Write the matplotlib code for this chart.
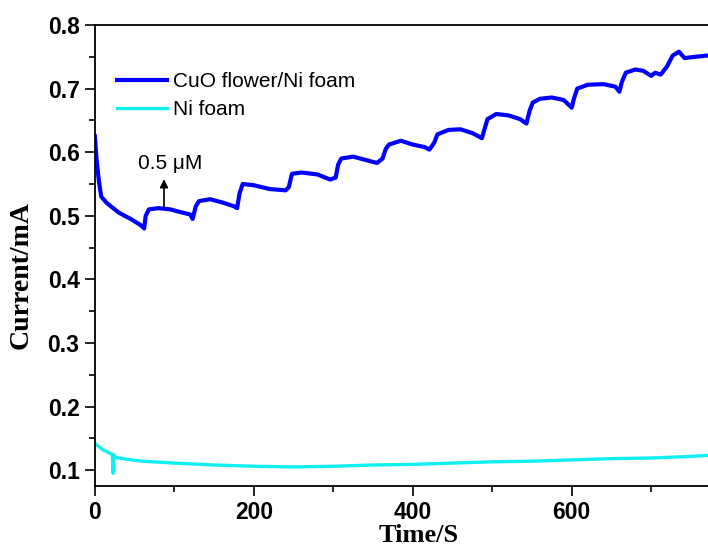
import numpy as np
import matplotlib.pyplot as plt

# values
cuo_t = [0, 2, 5, 8, 15, 30, 45, 58, 62, 64, 68, 80, 95, 110, 120, 123,
         127, 131, 145, 160, 175, 179, 182, 186, 200, 220, 240, 244, 248,
         260, 280, 296, 303, 306, 310, 325, 340, 355, 362, 366, 370, 385,
         400, 415, 421, 427, 431, 445, 460, 475, 487, 490, 494, 505, 520,
         535, 543, 547, 551, 560, 575, 590, 600, 603, 607, 620, 640, 655,
         660, 663, 668, 680, 690, 700, 705, 712, 720, 727, 735, 742, 755, 771]
cuo_i = [0.625, 0.590, 0.555, 0.530, 0.520, 0.505, 0.495, 0.485, 0.480, 0.500,
         0.510, 0.512, 0.510, 0.505, 0.502, 0.495,
         0.515, 0.523, 0.526, 0.521, 0.515, 0.512, 0.535, 0.550, 0.548, 0.542,
         0.540, 0.545, 0.566, 0.568, 0.565, 0.557, 0.560, 0.580, 0.590, 0.593,
         0.588, 0.583, 0.590, 0.605, 0.612, 0.618, 0.612, 0.608, 0.604, 0.615,
         0.628, 0.635, 0.636, 0.630, 0.622, 0.635, 0.652, 0.660, 0.658, 0.652,
         0.645, 0.665, 0.678, 0.684, 0.686, 0.682, 0.670, 0.685, 0.700, 0.706,
         0.707, 0.703, 0.695, 0.710, 0.725, 0.730, 0.728, 0.720, 0.725, 0.722,
         0.735, 0.752, 0.758, 0.748, 0.750, 0.752]

ni_t = [0, 5, 10, 20, 22, 23, 24, 26, 40, 60, 100, 150, 200, 250, 300,
        350, 400, 450, 500, 550, 600, 650, 700, 740, 771]
ni_i = [0.142, 0.137, 0.132, 0.126, 0.124, 0.095, 0.124, 0.120, 0.117, 0.114,
        0.111, 0.108, 0.106, 0.105, 0.106, 0.108, 0.109, 0.111, 0.113, 0.114,
        0.116, 0.118, 0.119, 0.121, 0.123]

fig = plt.figure(figsize=(7.08, 5.51), dpi=100)
ax = fig.add_axes([0.134, 0.118, 0.898, 0.8366])

ax.plot(cuo_t, cuo_i, color='#0000ff', lw=3, label='CuO flower/Ni foam')
ax.plot(ni_t, ni_i, color='#10f0f0', lw=2.4, label='Ni foam')

ax.set_xlim(0, 800)
ax.set_ylim(0.075, 0.8)
ax.set_xticks([0, 200, 400, 600])
ax.set_xticks([100, 300, 500, 700], minor=True)
ax.set_yticks(np.arange(0.1, 0.81, 0.1))
ax.set_yticks(np.arange(0.15, 0.8, 0.1), minor=True)
ax.set_yticklabels(['0.1', '0.2', '0.3', '0.4', '0.5', '0.6', '0.7', '0.8'])

ax.tick_params(which='major', direction='out', length=7, width=1.2, pad=4)
ax.tick_params(which='minor', direction='out', length=4, width=1.2)
for lab in ax.get_xticklabels() + ax.get_yticklabels():
    lab.set_family('Liberation Sans')
    lab.set_fontweight('bold')
    lab.set_fontsize(16.5)
for sp in ax.spines.values():
    sp.set_linewidth(1.3)

ax.set_xlabel('Time/S', family='Liberation Serif', fontweight='bold',
              fontsize=19)
ax.set_ylabel('Current/mA', family='Liberation Serif', fontweight='bold',
              fontsize=20)
ax.xaxis.set_label_coords(0.509, -0.082)
ax.yaxis.set_label_coords(-0.097, 0.458)

ax.annotate('', xy=(87, 0.562), xytext=(87, 0.508),
            arrowprops=dict(arrowstyle='-|>', color='black', lw=1.2,
                            mutation_scale=12))
ax.text(95, 0.582, '0.5 μM', family='Liberation Sans', fontsize=15,
        ha='center', va='center')

ax.legend(loc='upper left', bbox_to_anchor=(0.005, 0.938), frameon=False,
          prop={'family': 'Liberation Sans', 'size': 15},
          handlelength=2.4, handletextpad=0.3, labelspacing=0.42)

fig.savefig('out.png', dpi=100)
